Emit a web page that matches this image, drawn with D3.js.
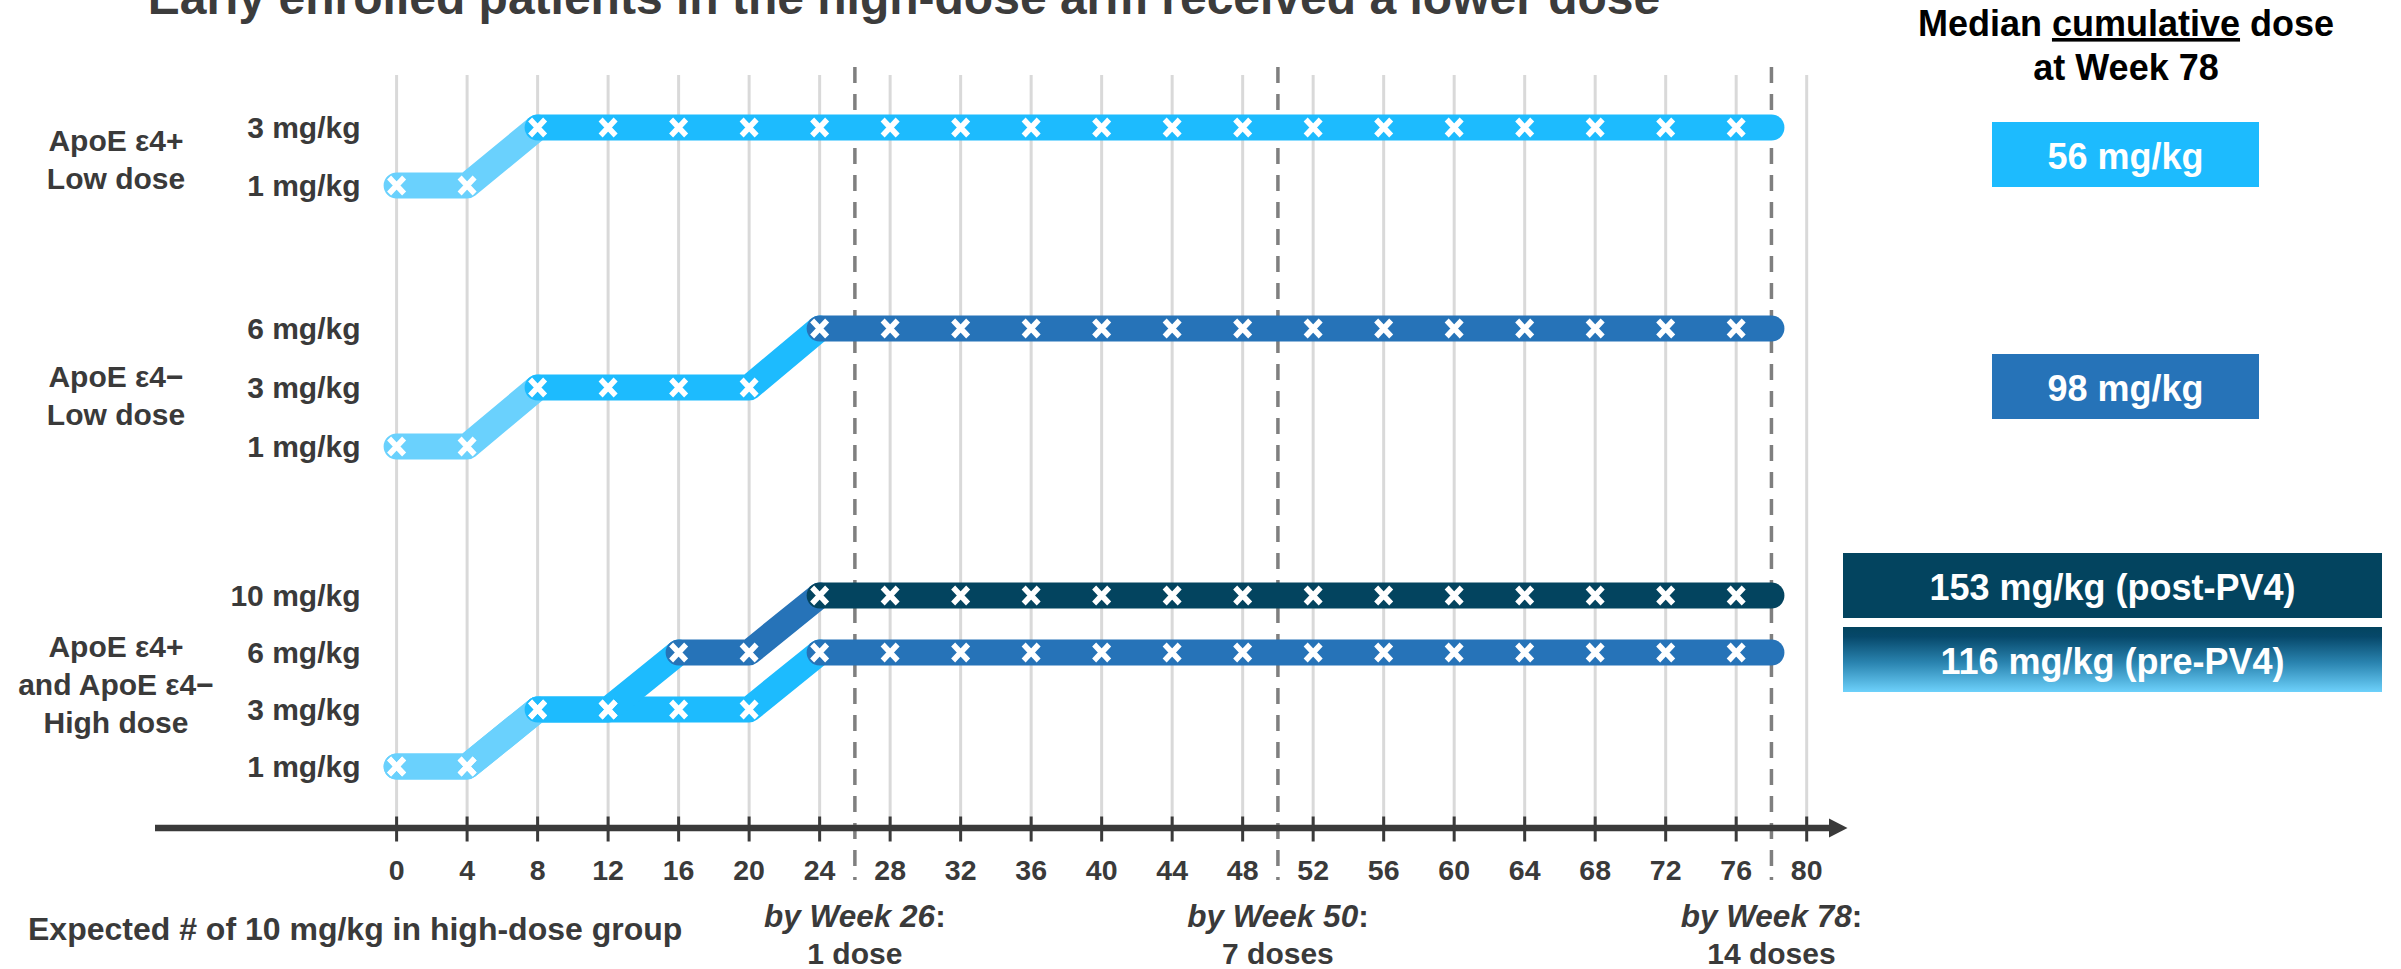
<!DOCTYPE html>
<html><head><meta charset="utf-8">
<script src="https://cdn.jsdelivr.net/npm/d3@7"></script>
<style>
body{margin:0;background:#fff}
svg{display:block}
text{font-family:"Liberation Sans",Arial,Helvetica,sans-serif;font-weight:bold}
</style>
</head><body>
<svg id="chart" width="2401" height="969"></svg>
<script>
// ---------- data ----------
const doseWeeks = [0,4,8,12,16,20,24,28,32,36,40,44,48,52,56,60,64,68,72,76];
const endWeek = 78;
const tickWeeks = [0,4,8,12,16,20,24,28,32,36,40,44,48,52,56,60,64,68,72,76,80];
const milestoneWeeks = [26,50,78];
const milestoneText = ["1 dose","7 doses","14 doses"];
const groupNames = [["ApoE ε4+","Low dose"],["ApoE ε4−","Low dose"],["ApoE ε4+","and ApoE ε4−","High dose"]];
const groupLevels = [[1,3],[1,3,6],[1,3,6,10]];
const lowDoseE4pos  = [1,1,3,3,3,3,3,3,3,3,3,3,3,3,3,3,3,3,3,3];
const lowDoseE4neg  = [1,1,3,3,3,3,6,6,6,6,6,6,6,6,6,6,6,6,6,6];
const highDosePrePV4  = [1,1,3,3,3,3,6,6,6,6,6,6,6,6,6,6,6,6,6,6];
const highDosePostPV4 = [1,1,3,3,6,6,10,10,10,10,10,10,10,10,10,10,10,10,10,10];
const cumulativeLabels = ["56 mg/kg","98 mg/kg","153 mg/kg (post-PV4)","116 mg/kg (pre-PV4)"];
const cumulativeValues = [56,98,153,116];

// ---------- styles / layout ----------
const doseColor = {1:"#6AD1FD",3:"#1DBBFE",6:"#2673B8",10:"#03445F"};
const textColor = "#3a3a3a";
const svg = d3.select("#chart");
const x = d3.scaleLinear().domain([0,80]).range([396.6,1806.7]);
const groupRanges = [[185.5,127.5],[446.5,328.5],[766.5,595.5]];
const yScales = groupLevels.map((lv,i)=>d3.scalePoint().domain(lv).range(groupRanges[i]));
const series = [
  {g:0, doses:lowDoseE4pos},
  {g:1, doses:lowDoseE4neg},
  {g:2, doses:highDosePrePV4},
  {g:2, doses:highDosePostPV4}
];
const gridTop = 75, axisY = 828;

// defs
const defs = svg.append("defs");
const grad = defs.append("linearGradient").attr("id","preGrad").attr("x1",0).attr("y1",0).attr("x2",0).attr("y2",1);
grad.append("stop").attr("offset","0").attr("stop-color","#03445F");
grad.append("stop").attr("offset","0.15").attr("stop-color","#06486A");
grad.append("stop").attr("offset","0.55").attr("stop-color","#2A84B0");
grad.append("stop").attr("offset","1").attr("stop-color","#6DD1FB");

// title (cut off at the top)
svg.append("text").attr("x",904).attr("y",14).attr("text-anchor","middle")
  .attr("font-size",48).attr("fill","#3c3c3c")
  .text("Early enrolled patients in the high-dose arm received a lower dose");

// gridlines
svg.append("g").selectAll("line").data(tickWeeks).join("line")
  .attr("x1",d=>x(d)).attr("x2",d=>x(d)).attr("y1",gridTop).attr("y2",axisY)
  .attr("stroke","#d9d9d9").attr("stroke-width",3);

// dashed milestone lines
svg.append("g").selectAll("line").data(milestoneWeeks).join("line")
  .attr("x1",d=>x(d)).attr("x2",d=>x(d)).attr("y1",67).attr("y2",880)
  .attr("stroke","#7f7f7f").attr("stroke-width",3.5).attr("stroke-dasharray","16 11");

// axis
const axisG = svg.append("g");
axisG.append("line").attr("x1",155).attr("x2",1832).attr("y1",axisY).attr("y2",axisY)
  .attr("stroke",textColor).attr("stroke-width",6.5);
axisG.append("path").attr("d",`M1829,${axisY-9.5}L1847.5,${axisY}L1829,${axisY+9.5}Z`).attr("fill",textColor);
axisG.selectAll("line.tick").data(tickWeeks).join("line").attr("class","tick")
  .attr("x1",d=>x(d)).attr("x2",d=>x(d)).attr("y1",axisY-11.5).attr("y2",axisY+13.5)
  .attr("stroke",textColor).attr("stroke-width",3);
axisG.selectAll("text").data(tickWeeks).join("text")
  .attr("x",d=>x(d)).attr("y",880).attr("text-anchor","middle")
  .attr("font-size",28.5).attr("fill",textColor).text(d=>d);

// dose paths
const line = d3.line().x(d=>x(d[0])).y(d=>d[1]).curve(d3.curveLinear);
const pathG = svg.append("g");
series.forEach(s=>{
  const ys = yScales[s.g];
  const pts = doseWeeks.map((w,i)=>[w, s.doses[i]]);
  pts.push([endWeek, s.doses[s.doses.length-1]]);
  let a = 0;
  while (a < pts.length-1) {
    let b = a;
    while (b+1 < pts.length && pts[b+1][1] === pts[a][1]) b++;
    const seg = pts.slice(a, Math.min(b+2, pts.length)).map(p=>[p[0], ys(p[1])]);
    pathG.append("path").attr("d", line(seg)).attr("fill","none")
      .attr("stroke", doseColor[pts[a][1]]).attr("stroke-width",26)
      .attr("stroke-linecap","round").attr("stroke-linejoin","round");
    a = b+1;
  }
});

// markers
const markG = svg.append("g");
series.forEach(s=>{
  const ys = yScales[s.g];
  markG.selectAll(null).data(doseWeeks.map((w,i)=>[w,s.doses[i]])).join("path")
    .attr("transform",d=>`translate(${x(d[0])},${ys(d[1])})`)
    .attr("d","M-7.5,-8L7.5,8M7.5,-8L-7.5,8")
    .attr("stroke","#fff").attr("stroke-width",5.5).attr("fill","none");
});

// dose level labels
groupLevels.forEach((lv,gi)=>{
  svg.append("g").selectAll("text").data(lv).join("text")
    .attr("x",360.5).attr("y",d=>yScales[gi](d)).attr("dy","0.35em")
    .attr("text-anchor","end").attr("font-size",30).attr("fill",textColor)
    .text(d=>d+" mg/kg");
});

// group labels
const groupLabelFirstBaseline = [150.7, 386.7, 656.7];
groupNames.forEach((names,gi)=>{
  const t = svg.append("text").attr("text-anchor","middle").attr("font-size",30).attr("fill",textColor);
  names.forEach((n,k)=>{
    t.append("tspan").attr("x",116).attr("y",groupLabelFirstBaseline[gi]+k*38.3).text(n);
  });
});

// bottom texts
svg.append("text").attr("x",28).attr("y",940).attr("font-size",32).attr("fill",textColor)
  .text("Expected # of 10 mg/kg in high-dose group");
milestoneWeeks.forEach((w,i)=>{
  const t = svg.append("text").attr("x",x(w)).attr("y",927).attr("text-anchor","middle")
    .attr("font-size",31.5).attr("fill",textColor);
  t.append("tspan").attr("font-style","italic").text("by Week "+w);
  t.append("tspan").text(":");
  svg.append("text").attr("x",x(w)).attr("y",964).attr("text-anchor","middle")
    .attr("font-size",30).attr("fill",textColor).text(milestoneText[i]);
});

// right panel header
const hdr = svg.append("text").attr("text-anchor","middle").attr("font-size",36).attr("fill","#000");
const l1 = hdr.append("tspan").attr("x",2126).attr("y",36);
l1.append("tspan").text("Median ");
l1.append("tspan").attr("text-decoration","underline").text("cumulative");
l1.append("tspan").text(" dose");
hdr.append("tspan").attr("x",2126).attr("y",80).text("at Week 78");

// cumulative dose boxes
const boxes = [
  {x:1992,y:122,w:267,h:65,fill:doseColor[3]},
  {x:1992,y:354,w:267,h:65,fill:doseColor[6]},
  {x:1843,y:553,w:539,h:65,fill:doseColor[10]},
  {x:1843,y:627,w:539,h:65,fill:"url(#preGrad)"}
];
const boxG = svg.append("g");
boxG.selectAll("rect").data(boxes).join("rect")
  .attr("x",d=>d.x).attr("y",d=>d.y).attr("width",d=>d.w).attr("height",d=>d.h).attr("fill",d=>d.fill);
boxG.selectAll("text").data(cumulativeLabels).join("text")
  .attr("x",(d,i)=>boxes[i].x+boxes[i].w/2).attr("y",(d,i)=>boxes[i].y+boxes[i].h/2+14)
  .attr("text-anchor","middle").attr("font-size",36).attr("fill","#fff")
  .text(d=>d);
</script>
</body></html>
